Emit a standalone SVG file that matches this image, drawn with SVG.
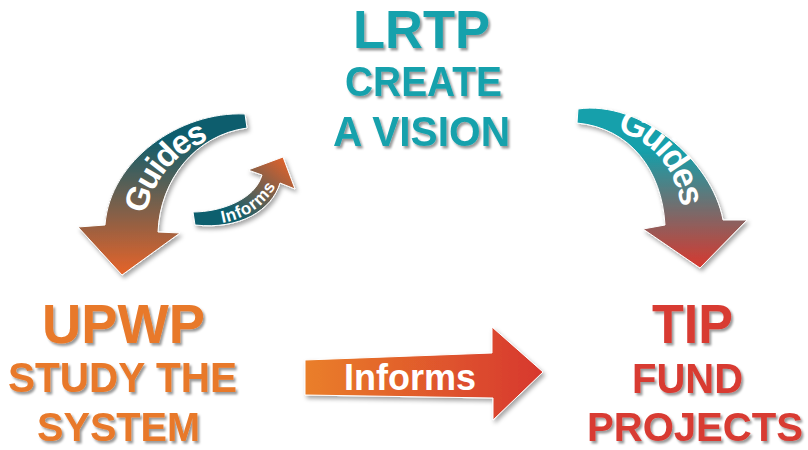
<svg xmlns="http://www.w3.org/2000/svg" width="808" height="450" viewBox="0 0 808 450">
<defs>
<style>
.lbl{font-family:"Liberation Sans",Arial,sans-serif;font-weight:bold;filter:url(#tsh)}
.teal{fill:#17a1ac}
.org{fill:#e8792a}
.red{fill:#d83a33}
.arr{stroke:#ffffff;stroke-width:1;filter:url(#ash)}
.on{font-family:"Liberation Sans",Arial,sans-serif;font-weight:bold;fill:#ffffff}
</style>
<filter id="tsh" x="-10%" y="-40%" width="125%" height="190%">
<feDropShadow dx="2" dy="2.5" stdDeviation="1.3" flood-color="#000" flood-opacity="0.4"/>
</filter>
<filter id="ash" x="-20%" y="-20%" width="140%" height="140%">
<feDropShadow dx="2" dy="3" stdDeviation="2" flood-color="#000" flood-opacity="0.35"/>
</filter>
<linearGradient id="gL" gradientUnits="userSpaceOnUse" x1="0" y1="138" x2="0" y2="272">
<stop offset="0" stop-color="#0e5d6d"/>
<stop offset="1" stop-color="#e2632a"/>
</linearGradient>
<linearGradient id="gR" gradientUnits="userSpaceOnUse" x1="0" y1="150" x2="0" y2="268">
<stop offset="0" stop-color="#13a0ab"/>
<stop offset="1" stop-color="#d8382e"/>
</linearGradient>
<linearGradient id="gS" gradientUnits="userSpaceOnUse" x1="238" y1="218" x2="288" y2="160">
<stop offset="0" stop-color="#0f5e6e"/>
<stop offset="1" stop-color="#e2622a"/>
</linearGradient>
<linearGradient id="gB" gradientUnits="userSpaceOnUse" x1="305" y1="0" x2="543" y2="0">
<stop offset="0" stop-color="#ea7f2a"/>
<stop offset="1" stop-color="#d7372f"/>
</linearGradient>
<path id="pL" d="M131,232 C135,170 180,122 246,122"/>
<path id="pR" d="M577,116 C640,108 695,150 695,224"/>
<path id="pS" d="M194,218.5 C225,221 258,210 272,180"/>
</defs>

<g id="connectors">
<g id="arrow-guides-left">
<path class="arr" fill="url(#gL)" d="M245,114 C180,111 110,160 105,225 L78,227 L122,275 L180,233 L158,232 C160,180 195,135 247,128 Z"/>
<text class="on" font-size="33" dominant-baseline="central"><textPath href="#pL" startOffset="44%" text-anchor="middle">Guides</textPath></text>
</g>
<g id="arrow-informs-small">
<path class="arr" fill="url(#gS)" d="M193,212 C220,212 255,200 262,175 L248,170 L283,157 L295,189 L280,183 C272,210 240,230 195,225 Z"/>
<text class="on" font-size="17" dominant-baseline="central"><textPath href="#pS" startOffset="63%" text-anchor="middle">Informs</textPath></text>
</g>
<g id="arrow-guides-right">
<path class="arr" fill="url(#gR)" d="M578,109 C640,100 712,160 723,220 L747,220 L700,268 L643,229 L665,225 C662,170 630,128 577,123 Z"/>
<text class="on" font-size="35" dominant-baseline="central"><textPath href="#pR" startOffset="57%" text-anchor="middle">Guides</textPath></text>
</g>
<g id="arrow-informs-big">
<path class="arr" fill="url(#gB)" d="M305,360 L492,353 L492,327 L543,372 L493,420 L493,398 L305,395 Z"/>
<text class="on" x="410" y="390" font-size="36" text-anchor="middle">Informs</text>
</g>
</g>

<g id="node-lrtp">
<text class="lbl teal" x="353" y="48" font-size="53" textLength="137" lengthAdjust="spacingAndGlyphs">LRTP</text>
<text class="lbl teal" x="345" y="96" font-size="42" textLength="157" lengthAdjust="spacingAndGlyphs">CREATE</text>
<text class="lbl teal" x="333" y="146" font-size="42" textLength="177" lengthAdjust="spacingAndGlyphs">A VISION</text>
</g>
<g id="node-upwp">
<text class="lbl org" x="42" y="343" font-size="56" textLength="163" lengthAdjust="spacingAndGlyphs">UPWP</text>
<text class="lbl org" x="8" y="392" font-size="42" textLength="229" lengthAdjust="spacingAndGlyphs">STUDY THE</text>
<text class="lbl org" x="37" y="441" font-size="41" textLength="163" lengthAdjust="spacingAndGlyphs">SYSTEM</text>
</g>
<g id="node-tip">
<text class="lbl red" x="652" y="343" font-size="56" textLength="81" lengthAdjust="spacingAndGlyphs">TIP</text>
<text class="lbl red" x="632" y="393" font-size="42" textLength="111" lengthAdjust="spacingAndGlyphs">FUND</text>
<text class="lbl red" x="587" y="441" font-size="41" textLength="216" lengthAdjust="spacingAndGlyphs">PROJECTS</text>
</g>
</svg>
